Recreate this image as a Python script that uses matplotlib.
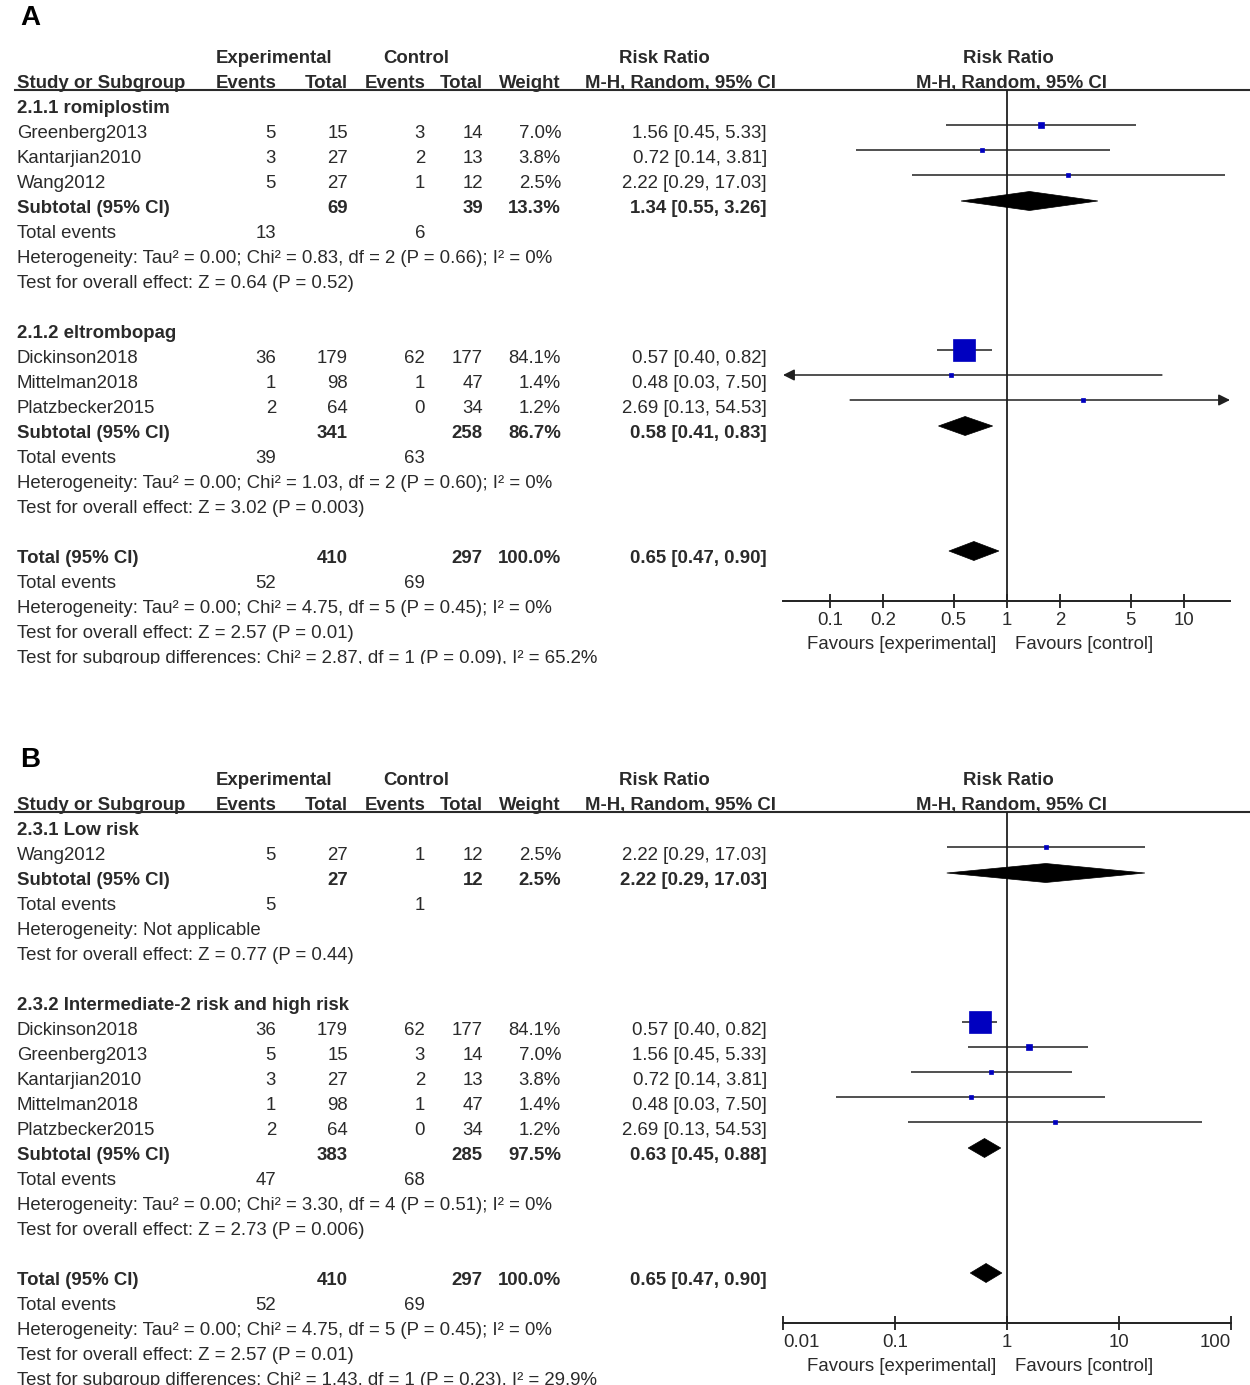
import numpy as np
import matplotlib
matplotlib.use("Agg")
import matplotlib.pyplot as plt
from matplotlib.patches import Polygon, Rectangle
from matplotlib.ticker import NullLocator

plt.rcParams['font.family'] = ['Liberation Sans', 'DejaVu Sans']

# ---------------- data: panel A ----------------
# subgroup 2.1.1 romiplostim
a1_study = ["Greenberg2013", "Kantarjian2010", "Wang2012"]
a1_exp_ev = [5, 3, 5]
a1_exp_n = [15, 27, 27]
a1_ctl_ev = [3, 2, 1]
a1_ctl_n = [14, 13, 12]
a1_weight = [7.0, 3.8, 2.5]
a1_rr = [1.56, 0.72, 2.22]
a1_lo = [0.45, 0.14, 0.29]
a1_hi = [5.33, 3.81, 17.03]
a1_sub = [69, 39, 13.3, 1.34, 0.55, 3.26]   # exp total, ctl total, weight, rr, lo, hi
a1_events = [13, 6]
a1_het = "Heterogeneity: Tau² = 0.00; Chi² = 0.83, df = 2 (P = 0.66); I² = 0%"
a1_test = "Test for overall effect: Z = 0.64 (P = 0.52)"

# subgroup 2.1.2 eltrombopag
a2_study = ["Dickinson2018", "Mittelman2018", "Platzbecker2015"]
a2_exp_ev = [36, 1, 2]
a2_exp_n = [179, 98, 64]
a2_ctl_ev = [62, 1, 0]
a2_ctl_n = [177, 47, 34]
a2_weight = [84.1, 1.4, 1.2]
a2_rr = [0.57, 0.48, 2.69]
a2_lo = [0.40, 0.03, 0.13]
a2_hi = [0.82, 7.50, 54.53]
a2_sub = [341, 258, 86.7, 0.58, 0.41, 0.83]
a2_events = [39, 63]
a2_het = "Heterogeneity: Tau² = 0.00; Chi² = 1.03, df = 2 (P = 0.60); I² = 0%"
a2_test = "Test for overall effect: Z = 3.02 (P = 0.003)"

# ---------------- data: panel B ----------------
b1_study = ["Wang2012"]
b1_exp_ev = [5]
b1_exp_n = [27]
b1_ctl_ev = [1]
b1_ctl_n = [12]
b1_weight = [2.5]
b1_rr = [2.22]
b1_lo = [0.29]
b1_hi = [17.03]
b1_sub = [27, 12, 2.5, 2.22, 0.29, 17.03]
b1_events = [5, 1]
b1_het = "Heterogeneity: Not applicable"
b1_test = "Test for overall effect: Z = 0.77 (P = 0.44)"

b2_study = ["Dickinson2018", "Greenberg2013", "Kantarjian2010", "Mittelman2018", "Platzbecker2015"]
b2_exp_ev = [36, 5, 3, 1, 2]
b2_exp_n = [179, 15, 27, 98, 64]
b2_ctl_ev = [62, 3, 2, 1, 0]
b2_ctl_n = [177, 14, 13, 47, 34]
b2_weight = [84.1, 7.0, 3.8, 1.4, 1.2]
b2_rr = [0.57, 1.56, 0.72, 0.48, 2.69]
b2_lo = [0.40, 0.45, 0.14, 0.03, 0.13]
b2_hi = [0.82, 5.33, 3.81, 7.50, 54.53]
b2_sub = [383, 285, 97.5, 0.63, 0.45, 0.88]
b2_events = [47, 68]
b2_het = "Heterogeneity: Tau² = 0.00; Chi² = 3.30, df = 4 (P = 0.51); I² = 0%"
b2_test = "Test for overall effect: Z = 2.73 (P = 0.006)"

# overall (same in both panels)
tot_row = [410, 297, 100.0, 0.65, 0.47, 0.90]
tot_events = [52, 69]
tot_het = "Heterogeneity: Tau² = 0.00; Chi² = 4.75, df = 5 (P = 0.45); I² = 0%"
tot_test = "Test for overall effect: Z = 2.57 (P = 0.01)"
a_subdiff = "Test for subgroup differences: Chi² = 2.87, df = 1 (P = 0.09), I² = 65.2%"
b_subdiff = "Test for subgroup differences: Chi² = 1.43, df = 1 (P = 0.23), I² = 29.9%"

a_groups = [("2.1.1 romiplostim", a1_study, a1_exp_ev, a1_exp_n, a1_ctl_ev, a1_ctl_n, a1_weight,
              a1_rr, a1_lo, a1_hi, a1_sub, a1_events, a1_het, a1_test),
            ("2.1.2 eltrombopag", a2_study, a2_exp_ev, a2_exp_n, a2_ctl_ev, a2_ctl_n, a2_weight,
              a2_rr, a2_lo, a2_hi, a2_sub, a2_events, a2_het, a2_test)]
b_groups = [("2.3.1 Low risk", b1_study, b1_exp_ev, b1_exp_n, b1_ctl_ev, b1_ctl_n, b1_weight,
              b1_rr, b1_lo, b1_hi, b1_sub, b1_events, b1_het, b1_test),
            ("2.3.2 Intermediate-2 risk and high risk", b2_study, b2_exp_ev, b2_exp_n, b2_ctl_ev,
              b2_ctl_n, b2_weight, b2_rr, b2_lo, b2_hi, b2_sub, b2_events, b2_het, b2_test)]

a_ticks = [0.1, 0.2, 0.5, 1, 2, 5, 10]
a_ticklabels = ["0.1", "0.2", "0.5", "1", "2", "5", "10"]
b_ticks = [0.01, 0.1, 1, 10, 100]
b_ticklabels = ["0.01", "0.1", "1", "10", "100"]

# ---------------- layout ----------------
W, H = 1250, 1385
TXT = '#2a2a2a'
LINE = '#202020'
BLUE = '#0000c0'
FS = 13.4
STEP = 25

fig = plt.figure(figsize=(W / 100, H / 100), dpi=100)
bg = fig.add_axes([0, 0, 1, 1])
bg.set_xlim(0, W)
bg.set_ylim(H, 0)
bg.axis('off')

# column anchors (px)
C_NAME, C_EEV, C_ETOT, C_CEV, C_CTOT, C_W, C_CI = 17, 276, 348, 425, 483, 561, 767


def txt(x, yc, s, ha='left', bold=False, size=FS, color=TXT):
    # yc = visual middle of the capitals
    bg.text(x, yc + 0.358 * size * 100 / 72, s, ha=ha, va='baseline', fontsize=size,
            fontweight='bold' if bold else 'normal', color=color)


def ci_text(rr, lo, hi):
    return f"{rr:.2f} [{lo:.2f}, {hi:.2f}]"


def study_mark(ax, y, rr, lo, hi, w, xlim):
    lo_c, hi_c = max(lo, xlim[0]), min(hi, xlim[1])
    arrow = dict(arrowstyle='-|>', color=LINE, lw=1.1, mutation_scale=17, shrinkA=0, shrinkB=0)
    if lo < xlim[0]:
        ax.annotate('', xy=(xlim[0], y), xytext=(hi_c, y), arrowprops=arrow)
    elif hi > xlim[1]:
        ax.annotate('', xy=(xlim[1], y), xytext=(lo_c, y), arrowprops=arrow)
    else:
        ax.plot([lo_c, hi_c], [y, y], color=LINE, lw=1.1, solid_capstyle='butt')
    side = max(4.0, 23 * np.sqrt(w / 84.1))
    ax.plot(rr, y, marker='s', ms=side * 0.72, color=BLUE, mec=BLUE, mew=0.5, zorder=5)


def diamond(ax, y, rr, lo, hi):
    ax.add_patch(Polygon([(lo, y), (rr, y - 9.5), (hi, y), (rr, y + 9.5)], closed=True,
                         facecolor='black', edgecolor='black', lw=0.5, zorder=5))


def draw_panel(dy, letter, letter_y, groups, subdiff, xlim, x_right, ticks, ticklabels):
    txt(20, letter_y, letter, bold=True, size=20, color='black')
    # header
    h1, h2 = 56 + dy, 81 + dy
    txt(274, h1, "Experimental", ha='center', bold=True)
    txt(416, h1, "Control", ha='center', bold=True)
    txt(664, h1, "Risk Ratio", ha='center', bold=True)
    txt(1008, h1, "Risk Ratio", ha='center', bold=True)
    txt(C_NAME, h2, "Study or Subgroup", bold=True)
    txt(277, h2, "Events", ha='right', bold=True)
    txt(C_ETOT, h2, "Total", ha='right', bold=True)
    txt(426, h2, "Events", ha='right', bold=True)
    txt(C_CTOT, h2, "Total", ha='right', bold=True)
    txt(C_W, h2, "Weight", ha='right', bold=True)
    txt(680, h2, "M-H, Random, 95% CI", ha='center', bold=True)
    txt(1011, h2, "M-H, Random, 95% CI", ha='center', bold=True)
    line_y = 90 + dy
    bg.plot([15, W], [line_y, line_y], color=TXT, lw=1.5)

    axis_y = 601 + dy
    ax = fig.add_axes([783 / W, 1 - axis_y / H, (x_right - 783) / W, (axis_y - line_y) / H])
    ax.set_xscale('log')
    ax.set_xlim(*xlim)
    ax.set_ylim(axis_y, line_y)
    ax.patch.set_alpha(0)
    for s in ['top', 'left', 'right']:
        ax.spines[s].set_visible(False)
    ax.spines['bottom'].set_color(LINE)
    ax.spines['bottom'].set_linewidth(1.4)
    ax.set_yticks([])
    ax.set_xticks(ticks)
    ax.set_xticklabels(ticklabels)
    ax.xaxis.set_minor_locator(NullLocator())
    ax.tick_params(axis='x', direction='inout', length=10, width=1.3, colors=LINE,
                   labelcolor=TXT, labelsize=FS, pad=3)
    # labels at the ends of the axis sit inside it
    labels = ax.get_xticklabels()
    if ticks[0] <= xlim[0] * 1.001:
        labels[0].set_horizontalalignment('left')
    if ticks[-1] >= xlim[1] * 0.999:
        labels[-1].set_horizontalalignment('right')
    ax.axvline(1, color=LINE, lw=1.3, zorder=1)

    def row_y(r):
        return 106 + dy + STEP * r

    r = 0
    for (gname, study, eev, en, cev, cn, wt, rr, lo, hi, sub, ev, het, test) in groups:
        txt(C_NAME, row_y(r), gname, bold=True)
        for i in range(len(study)):
            y = row_y(r + 1 + i)
            txt(C_NAME, y, study[i])
            txt(C_EEV, y, str(eev[i]), ha='right')
            txt(C_ETOT, y, str(en[i]), ha='right')
            txt(C_CEV, y, str(cev[i]), ha='right')
            txt(C_CTOT, y, str(cn[i]), ha='right')
            txt(C_W, y, f"{wt[i]:.1f}%", ha='right')
            txt(C_CI, y, ci_text(rr[i], lo[i], hi[i]), ha='right')
            study_mark(ax, y - 6, rr[i], lo[i], hi[i], wt[i], xlim)
        n = len(study)
        y = row_y(r + n + 1)
        txt(C_NAME, y, "Subtotal (95% CI)", bold=True)
        txt(C_ETOT, y, str(sub[0]), ha='right', bold=True)
        txt(C_CTOT, y, str(sub[1]), ha='right', bold=True)
        txt(C_W, y, f"{sub[2]:.1f}%", ha='right', bold=True)
        txt(C_CI, y, ci_text(sub[3], sub[4], sub[5]), ha='right', bold=True)
        diamond(ax, y - 5, sub[3], sub[4], sub[5])
        y = row_y(r + n + 2)
        txt(C_NAME, y, "Total events")
        txt(C_EEV, y, str(ev[0]), ha='right')
        txt(C_CEV, y, str(ev[1]), ha='right')
        txt(C_NAME, row_y(r + n + 3), het)
        txt(C_NAME, row_y(r + n + 4), test)
        r = r + n + 6

    y = row_y(r)
    txt(C_NAME, y, "Total (95% CI)", bold=True)
    txt(C_ETOT, y, str(tot_row[0]), ha='right', bold=True)
    txt(C_CTOT, y, str(tot_row[1]), ha='right', bold=True)
    txt(C_W, y, f"{tot_row[2]:.1f}%", ha='right', bold=True)
    txt(C_CI, y, ci_text(tot_row[3], tot_row[4], tot_row[5]), ha='right', bold=True)
    diamond(ax, y - 5, tot_row[3], tot_row[4], tot_row[5])
    y = row_y(r + 1)
    txt(C_NAME, y, "Total events")
    txt(C_EEV, y, str(tot_events[0]), ha='right')
    txt(C_CEV, y, str(tot_events[1]), ha='right')
    txt(C_NAME, row_y(r + 2), tot_het)
    txt(C_NAME, row_y(r + 3), tot_test)
    txt(C_NAME, row_y(r + 4), subdiff)

    txt(996, 642 + dy, "Favours [experimental]", ha='right')
    txt(1015, 642 + dy, "Favours [control]")


draw_panel(0, "A", 15, a_groups, a_subdiff, (10 ** (-224 / 177), 10 ** (223 / 177)), 1230,
           a_ticks, a_ticklabels)
draw_panel(722, "B", 757, b_groups, b_subdiff, (0.01, 100), 1231, b_ticks, b_ticklabels)

# panel A is cropped just under its last text line
bg.add_patch(Rectangle((0, 664), W, 78, facecolor='white', edgecolor='none', zorder=20))

fig.savefig("out.png", dpi=100)
